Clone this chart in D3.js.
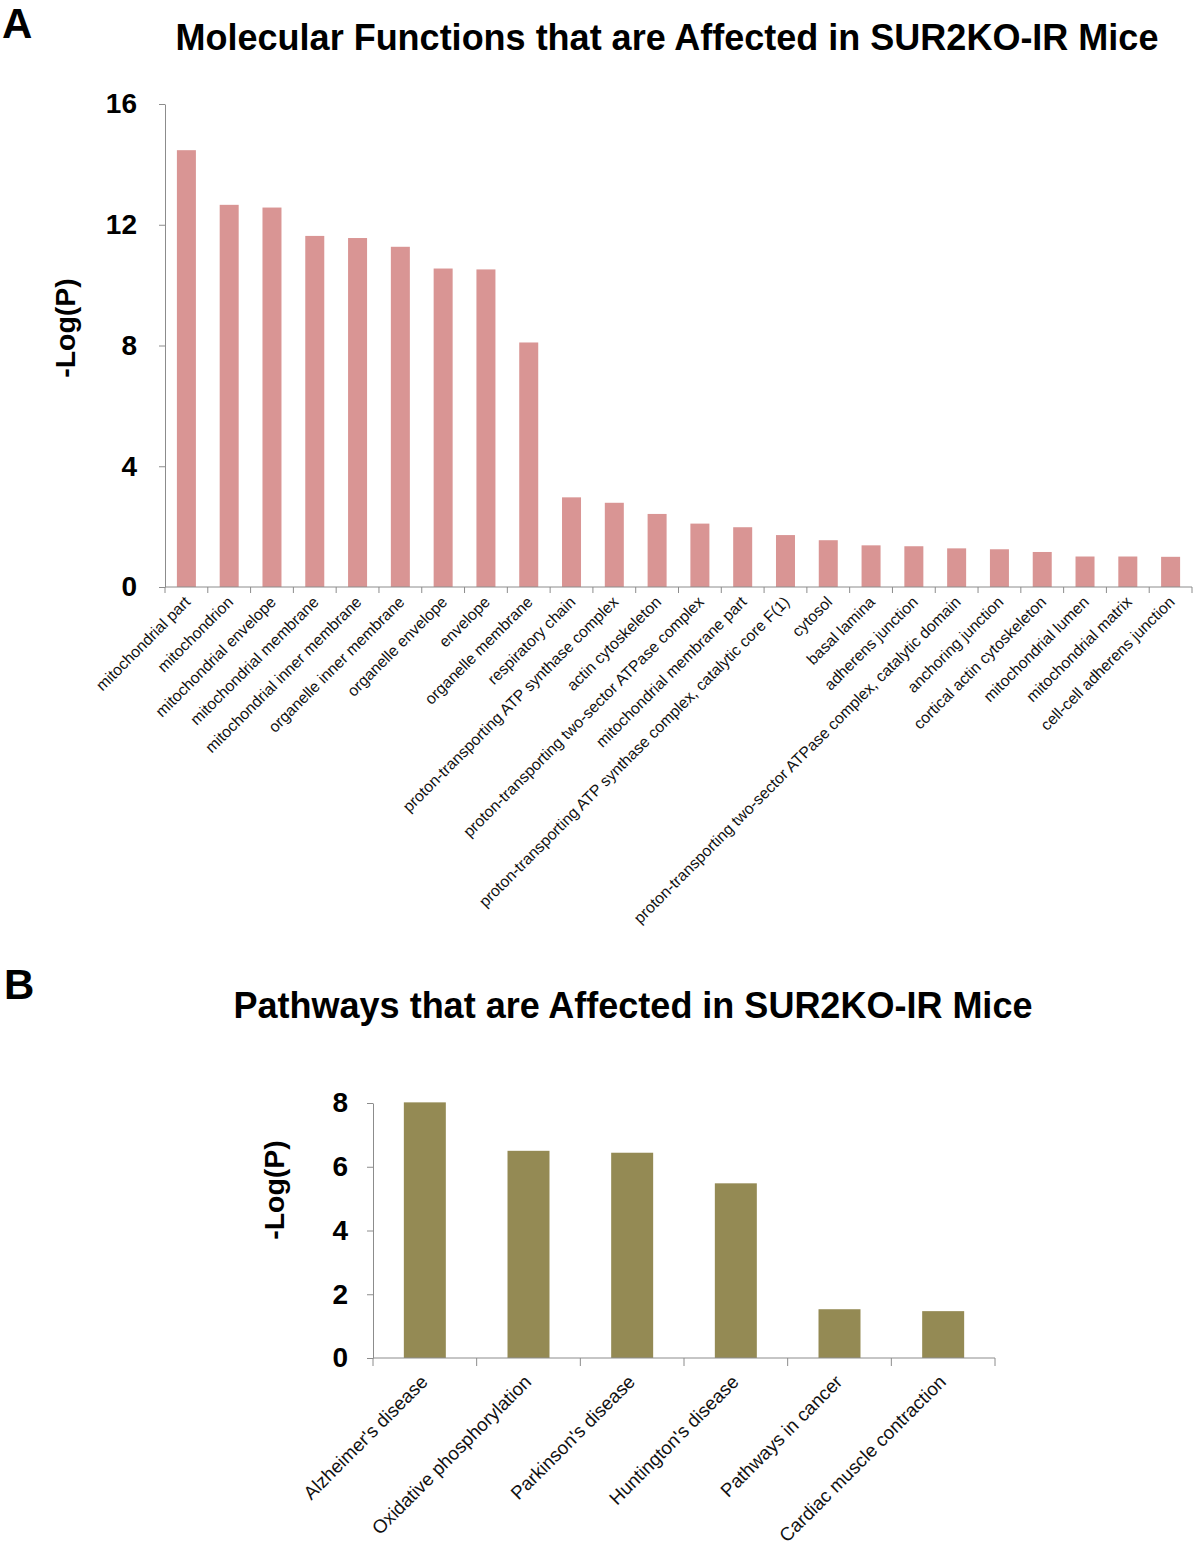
<!doctype html>
<html>
  <style>
    body { margin: 0; background-color: #fff; }
    text { font-family: "Liberation Sans", Arial, sans-serif; }
    .bold { font-weight: bold; }
  </style>
  <body>
  <script src="https://cdn.jsdelivr.net/npm/d3@7"></script>
  <script>
    // panel A: GO cellular component terms
    var termsA = [
      'mitochondrial part', 'mitochondrion', 'mitochondrial envelope',
      'mitochondrial membrane', 'mitochondrial inner membrane',
      'organelle inner membrane', 'organelle envelope', 'envelope',
      'organelle membrane', 'respiratory chain',
      'proton-transporting ATP synthase complex', 'actin cytoskeleton',
      'proton-transporting two-sector ATPase complex',
      'mitochondrial membrane part',
      'proton-transporting ATP synthase complex, catalytic core F(1)',
      'cytosol', 'basal lamina', 'adherens junction',
      'proton-transporting two-sector ATPase complex, catalytic domain',
      'anchoring junction', 'cortical actin cytoskeleton',
      'mitochondrial lumen', 'mitochondrial matrix', 'cell-cell adherens junction'
    ];
    var valuesA = [14.47, 12.66, 12.57, 11.63, 11.56, 11.27, 10.55, 10.52, 8.10,
                   2.97, 2.79, 2.42, 2.10, 1.98, 1.72, 1.55, 1.38, 1.35, 1.28,
                   1.25, 1.16, 1.01, 1.01, 1.00];
    var ticksA = [0, 4, 8, 12, 16];

    // panel B: pathways
    var termsB = ["Alzheimer's disease", 'Oxidative phosphorylation',
                  "Parkinson's disease", "Huntington's disease",
                  'Pathways in cancer', 'Cardiac muscle contraction'];
    var valuesB = [8.02, 6.50, 6.44, 5.48, 1.53, 1.47];
    var ticksB = [0, 2, 4, 6, 8];

    var width = 1200,
        height = 1547;

    var svg = d3.select('body').append('svg')
        .attr('width', width)
        .attr('height', height);

    var axisColor = '#8c8c8c';

    var panel = function (opts) {
      var x = d3.scaleBand()
          .domain(opts.terms)
          .range([opts.left, opts.right])
          .paddingInner(opts.pad)
          .paddingOuter(opts.pad / 2);

      var y = d3.scaleLinear()
          .domain([0, opts.max])
          .range([opts.bottom, opts.top]);

      var g = svg.append('g');

      g.selectAll('rect')
          .data(opts.values)
          .enter().append('rect')
          .attr('x', function (d, i) { return x(opts.terms[i]); })
          .attr('y', function (d) { return y(d); })
          .attr('width', x.bandwidth())
          .attr('height', function (d) { return y(0) - y(d); })
          .attr('fill', opts.color);

      // y axis
      var yAxis = g.append('g')
          .attr('transform', 'translate(' + opts.left + ',0)')
          .call(d3.axisLeft(y).tickValues(opts.ticks).tickSize(6).tickSizeOuter(0));
      yAxis.select('.domain').attr('stroke', axisColor);
      yAxis.selectAll('line').attr('stroke', axisColor);
      yAxis.selectAll('text')
          .attr('class', 'bold')
          .attr('x', -opts.labelGap)
          .attr('fill', '#000')
          .style('font-size', opts.tickFont + 'px')
          .style('font-family', '"Liberation Sans", Arial, sans-serif');

      // x axis: line with ticks on band boundaries
      g.append('line')
          .attr('x1', opts.left).attr('x2', opts.right)
          .attr('y1', opts.bottom).attr('y2', opts.bottom)
          .attr('stroke', axisColor);
      g.selectAll('.xtick')
          .data(d3.range(opts.terms.length + 1))
          .enter().append('line')
          .attr('class', 'xtick')
          .attr('x1', function (i) { return opts.left + i * x.step(); })
          .attr('x2', function (i) { return opts.left + i * x.step(); })
          .attr('y1', opts.bottom)
          .attr('y2', opts.bottom + opts.xTickLen)
          .attr('stroke', axisColor);

      g.selectAll('.xlabel')
          .data(opts.terms)
          .enter().append('text')
          .attr('class', 'xlabel')
          .attr('text-anchor', 'end')
          .attr('transform', function (d) {
            var cx = x(d) + x.bandwidth() / 2 + opts.labelDx;
            return 'translate(' + cx + ',' + (opts.bottom + opts.labelDy) + ') rotate(-45)';
          })
          .style('font-size', opts.labelFont + 'px')
          .attr('fill', '#111')
          .text(function (d) { return d; });

      g.append('text')
          .attr('class', 'bold')
          .attr('text-anchor', 'middle')
          .attr('transform', 'translate(' + opts.yTitleX + ',' + opts.yTitleY + ') rotate(-90)')
          .attr('dy', '0.35em')
          .style('font-size', '28.5px')
          .text('-Log(P)');

      g.append('text')
          .attr('class', 'bold')
          .attr('text-anchor', 'middle')
          .attr('x', opts.titleX)
          .attr('y', opts.titleY)
          .style('font-size', '36px')
          .text(opts.title);

      g.append('text')
          .attr('class', 'bold')
          .attr('x', opts.letterX)
          .attr('y', opts.letterY)
          .style('font-size', '42px')
          .text(opts.letter);
    };

    panel({
      terms: termsA, values: valuesA, ticks: ticksA, max: 16,
      left: 165, right: 1192, top: 104, bottom: 587, pad: 0.556,
      color: '#d99594', tickFont: 28, labelGap: 28, xTickLen: 6,
      labelFont: 15.8, labelDx: 5, labelDy: 16, yTitleX: 65, yTitleY: 328,
      title: 'Molecular Functions that are Affected in SUR2KO-IR Mice',
      titleX: 667, titleY: 50, letter: 'A', letterX: 2, letterY: 38
    });

    panel({
      terms: termsB, values: valuesB, ticks: ticksB, max: 8,
      left: 373, right: 995, top: 1103, bottom: 1358, pad: 0.595,
      color: '#948a54', tickFont: 28, labelGap: 25, xTickLen: 8,
      labelFont: 18.8, labelDx: 4, labelDy: 25, yTitleX: 274, yTitleY: 1190,
      title: 'Pathways that are Affected in SUR2KO-IR Mice',
      titleX: 633, titleY: 1018, letter: 'B', letterX: 4, letterY: 999
    });
  </script>
  </body>
</html>
